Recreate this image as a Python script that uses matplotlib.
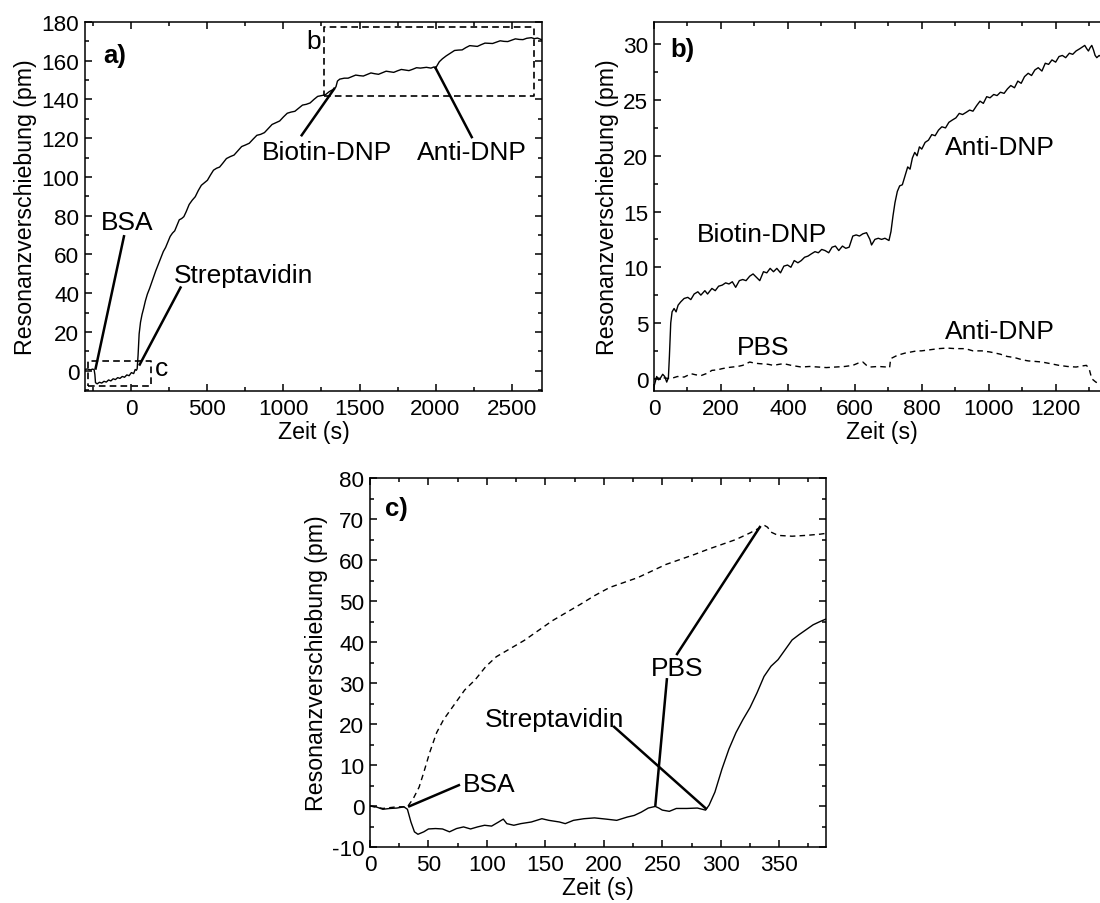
import matplotlib
matplotlib.use("Agg")
import matplotlib.pyplot as plt
from matplotlib.ticker import MultipleLocator

plt.rcParams['font.family'] = ['Liberation Sans', 'DejaVu Sans']
plt.rcParams['axes.linewidth'] = 1.1
plt.rcParams['axes.unicode_minus'] = False

# ---- panel a: full sensorgram ----
time_a = [
    -305, -290, -270, -255, -245, -240, -236, -225, -210, -195,
    -180, -165, -150, -135, -120, -105, -90, -75, -60, -45,
    -30, -15, 0, 15, 25, 33, 38, 44, 51, 60,
    70, 80, 92, 105, 120, 140, 160, 185, 210, 225,
    240, 255, 270, 285, 300, 315, 330, 345, 360, 380,
    400, 420, 440, 460, 480, 500, 520, 540, 560, 580,
    600, 625, 650, 675, 700, 725, 750, 775, 800, 825,
    850, 875, 900, 925, 950, 975, 1000, 1025, 1050, 1075,
    1100, 1125, 1150, 1175, 1200, 1225, 1250, 1275, 1300, 1330,
    1345, 1355, 1370, 1400, 1425, 1450, 1475, 1500, 1525, 1550,
    1575, 1600, 1625, 1650, 1675, 1700, 1725, 1750, 1775, 1800,
    1825, 1850, 1875, 1900, 1940, 1970, 1990, 2000, 2010, 2025,
    2045, 2070, 2100, 2125, 2150, 2175, 2200, 2225, 2250, 2275,
    2300, 2325, 2350, 2375, 2400, 2425, 2450, 2475, 2500, 2525,
    2550, 2575, 2600, 2630, 2650, 2670, 2700]
shift_a = [
    0.6, 0.9, 0.4, 0.8, 0.5, -2.0, -6.2, -6.8, -6.0, -6.4,
    -5.5, -5.9, -4.8, -5.3, -4.2, -4.6, -3.6, -4.0, -3.0, -3.4,
    -2.2, -2.6, -1.0, -1.5, 0.6, 0.2, 1.0, 8.0, 19.0, 25.0,
    29.0, 32.0, 36.0, 39.5, 42.5, 47.0, 51.5, 56.5, 61.5, 63.6,
    66.5, 69.3, 71.0, 72.2, 75.0, 77.9, 78.5, 79.5, 82.0, 85.8,
    88.0, 89.8, 93.0, 95.7, 97.0, 98.3, 101.0, 103.5, 104.5, 105.1,
    107.0, 109.5, 110.5, 111.3, 113.5, 115.7, 116.5, 117.4, 119.5, 121.5,
    122.0, 122.9, 125.0, 127.1, 128.0, 128.9, 131.0, 132.9, 133.5, 133.9,
    135.5, 137.1, 137.5, 138.2, 140.0, 141.6, 142.0, 142.4, 144.0, 145.3,
    146.5, 149.5, 150.5, 151.0, 151.0, 151.8, 152.6, 152.3, 152.1, 152.9,
    153.7, 153.3, 153.0, 153.8, 154.6, 154.3, 154.0, 154.8, 155.5, 155.2,
    154.9, 155.6, 156.4, 156.2, 156.6, 156.2, 156.8, 156.0, 157.5, 159.5,
    161.0, 162.5, 164.0, 165.3, 165.5, 165.6, 166.8, 167.8, 167.6, 167.4,
    168.3, 169.1, 169.0, 168.9, 169.6, 170.3, 170.0, 169.9, 170.6, 171.3,
    171.0, 170.9, 171.6, 171.9, 171.4, 171.7, 170.8]

# ---- panel b: Biotin-DNP / Anti-DNP step (solid) and PBS reference (dashed) ----
time_b = [
    0, 8, 14, 20, 26, 32, 38, 43, 46, 50,
    54, 60, 66, 72, 80, 90, 101, 110, 120, 131,
    140, 152, 160, 173, 183, 193, 204, 214, 224, 234,
    244, 255, 265, 275, 286, 296, 306, 316, 327, 337,
    347, 357, 367, 378, 388, 399, 409, 419, 430, 440,
    450, 460, 470, 481, 491, 501, 511, 522, 532, 542,
    552, 563, 573, 583, 594, 604, 614, 624, 635, 645,
    650, 660, 670, 680, 690, 702, 708, 714, 720, 727,
    734, 742, 750, 758, 765, 772, 779, 786, 793, 800,
    810, 820, 830, 840, 850, 860, 871, 881, 891, 902,
    912, 922, 933, 943, 953, 964, 974, 984, 994, 1004,
    1015, 1025, 1035, 1046, 1056, 1066, 1077, 1087, 1097, 1107,
    1118, 1128, 1138, 1148, 1159, 1169, 1179, 1189, 1200, 1210,
    1220, 1230, 1241, 1251, 1261, 1272, 1282, 1287, 1293, 1298,
    1303, 1308, 1313, 1318, 1323, 1330, 1340]
shift_b = [
    -0.7, 0.2, -0.1, 0.1, 0.4, 0.2, -0.3, 0.1, 2.0, 5.0,
    6.0, 6.3, 6.0, 6.6, 6.9, 7.2, 7.3, 7.1, 7.6, 7.8,
    7.5, 7.9, 7.6, 8.1, 7.9, 8.3, 8.4, 8.6, 8.5, 8.7,
    8.2, 8.8, 8.9, 8.8, 9.2, 9.4, 9.1, 8.8, 9.6, 9.5,
    9.9, 9.6, 9.9, 9.5, 10.1, 10.2, 10.0, 10.6, 10.4, 10.6,
    10.9, 11.0, 11.2, 11.4, 11.3, 11.6, 11.5, 11.3, 11.8, 11.9,
    11.5, 11.9, 11.7, 11.8, 12.8, 12.9, 12.8, 13.0, 13.1, 12.5,
    12.0, 12.5, 12.6, 12.5, 12.6, 12.4, 13.2, 14.6, 15.8, 16.8,
    17.3, 17.4, 18.2, 19.0, 18.8, 19.8, 20.3, 20.0, 20.8, 20.6,
    21.2, 21.4, 21.9, 21.8, 22.3, 22.6, 22.5, 23.0, 23.2, 23.4,
    23.8, 23.7, 23.9, 24.1, 24.0, 24.5, 24.9, 24.7, 25.3, 25.2,
    25.5, 25.4, 25.7, 25.6, 26.0, 26.3, 26.1, 26.7, 26.5, 27.1,
    27.4, 27.2, 27.7, 27.9, 27.6, 28.3, 28.2, 28.6, 28.4, 28.9,
    29.0, 28.8, 29.2, 29.1, 29.4, 29.6, 29.8, 29.9, 29.6, 29.4,
    29.7, 29.9, 29.5, 29.0, 28.8, 29.0, 28.8]

time_b_ref = [
    0, 25, 49, 70, 90, 111, 125, 142, 160, 173,
    190, 203, 220, 234, 250, 265, 286, 300, 316, 340,
    357, 375, 388, 410, 440, 465, 491, 515, 542, 570,
    594, 610, 624, 635, 645, 670, 696, 704, 707, 727,
    750, 768, 785, 799, 825, 850, 875, 902, 930, 953,
    980, 1004, 1020, 1035, 1055, 1077, 1100, 1118, 1140, 1159,
    1185, 1210, 1235, 1261, 1280, 1292, 1300, 1308, 1320, 1335]
shift_b_ref = [
    0.0, 0.1, 0.0, 0.2, 0.15, 0.45, 0.35, 0.3, 0.5, 0.75,
    0.8, 0.9, 1.0, 1.05, 1.1, 1.2, 1.5, 1.4, 1.35, 1.3,
    1.2, 1.3, 1.35, 1.2, 1.05, 1.1, 1.05, 1.0, 1.05, 1.1,
    1.2, 1.4, 1.5, 1.2, 1.05, 1.1, 1.05, 1.0, 1.8, 2.1,
    2.3, 2.4, 2.5, 2.5, 2.6, 2.7, 2.75, 2.7, 2.7, 2.5,
    2.5, 2.4, 2.3, 2.2, 2.0, 1.9, 1.7, 1.6, 1.55, 1.5,
    1.35, 1.2, 1.1, 1.05, 1.15, 1.2, 0.9, 0.0, -0.3, -0.5]

# ---- panel c: BSA / Streptavidin (solid) and PBS reference (dashed) ----
time_c = [
    0, 5, 11, 17, 23, 29, 32, 35, 38, 41,
    46, 50, 56, 62, 68, 74, 80, 86, 92, 98,
    104, 110, 114, 117, 123, 129, 138, 147, 153, 162,
    167, 174, 183, 192, 202, 211, 220, 226, 232, 238,
    244, 247, 250, 256, 262, 271, 280, 287, 290, 295,
    301, 307, 313, 319, 325, 331, 337, 343, 349, 355,
    361, 367, 373, 379, 385, 390]
shift_c = [
    0.0, -0.2, -0.8, -0.6, -0.5, -0.2, -0.8, -3.9, -6.3, -6.9,
    -6.3, -5.6, -5.5, -5.6, -6.3, -5.5, -5.1, -5.6, -5.1, -4.7,
    -4.9, -3.9, -3.2, -4.3, -4.7, -4.3, -3.9, -3.1, -3.5, -3.9,
    -4.3, -3.5, -3.1, -2.9, -3.2, -3.5, -2.7, -2.3, -1.5, -0.5,
    -0.1, -0.5, -1.0, -1.3, -0.6, -0.6, -0.5, -1.0, 0.2, 3.4,
    9.0, 13.9, 17.9, 21.1, 24.0, 27.6, 31.6, 34.1, 35.7, 38.1,
    40.5, 41.8, 43.0, 44.2, 45.0, 45.6]

time_c_ref = [
    0, 11, 23, 32, 37, 42, 46, 51, 57, 63,
    72, 81, 90, 99, 108, 120, 132, 144, 156, 168,
    180, 192, 205, 217, 229, 241, 253, 265, 277, 289,
    301, 313, 325, 333, 337, 340, 343, 349, 361, 373,
    385, 390]
shift_c_ref = [
    0.0, -0.6, -0.2, -0.2, 1.8, 4.6, 8.2, 13.0, 17.9, 21.1,
    24.7, 28.3, 30.8, 34.0, 36.4, 38.4, 40.4, 42.8, 45.2, 47.2,
    49.2, 51.3, 53.3, 54.5, 55.7, 57.3, 58.9, 60.1, 61.3, 62.6,
    63.8, 65.0, 66.6, 67.8, 68.5, 68.0, 66.8, 66.0, 65.8, 66.0,
    66.3, 66.5]

XLABEL = "Zeit (s)"
YLABEL = "Resonanzverschiebung (pm)"

TICK_FS = 16.2
LABEL_FS = 16.7
ANNOT_FS = 19
PANEL_FS = 18.5

fig = plt.figure(figsize=(11, 9.04), dpi=100)
W, H = 1100, 904


def add_axes_px(left, top, right, bottom):
    return fig.add_axes([left / W, 1 - bottom / H, (right - left) / W, (bottom - top) / H])


def style(ax, xmaj, xmin, ymaj, ymin):
    ax.xaxis.set_major_locator(MultipleLocator(xmaj))
    ax.xaxis.set_minor_locator(MultipleLocator(xmin))
    ax.yaxis.set_major_locator(MultipleLocator(ymaj))
    ax.yaxis.set_minor_locator(MultipleLocator(ymin))
    ax.tick_params(which='both', direction='in', top=True, right=True,
                   labelsize=TICK_FS, width=1.1)
    ax.tick_params(which='major', length=5)
    ax.tick_params(which='minor', length=3)
    ax.tick_params(axis='x', which='major', pad=5)
    ax.tick_params(axis='y', which='major', pad=4)
    ax.set_xlabel(XLABEL, fontsize=LABEL_FS, labelpad=1)
    ax.set_ylabel(YLABEL, fontsize=LABEL_FS, labelpad=3)


def pointer(ax, text_xy, tip_xy):
    ax.plot([text_xy[0], tip_xy[0]], [text_xy[1], tip_xy[1]],
            color='black', lw=1.8, solid_capstyle='butt')


# ---------------- panel a ----------------
ax_a = add_axes_px(85, 23, 542, 392)
ax_a.plot(time_a, shift_a, color='black', lw=1.0)
ax_a.set_xlim(-305, 2700)
ax_a.set_ylim(-10.5, 180)
style(ax_a, 500, 250, 20, 10)
ax_a.text(0.04, 0.91, "a)", transform=ax_a.transAxes, fontsize=PANEL_FS,
          fontweight='bold', va='center', ha='left')

# regions enlarged in panels b and c
box_kw = dict(color='black', lw=1.2, ls=(0, (4, 2.5)))
ax_a.plot([1268, 2646, 2646, 1268, 1268], [141.6, 141.6, 177.2, 177.2, 141.6], **box_kw)
ax_a.plot([-287, 128, 128, -287, -287], [-7.8, -7.8, 4.8, 4.8, -7.8], **box_kw)
ax_a.text(1197, 170, "b", fontsize=ANNOT_FS, ha='center', va='center')
ax_a.text(199, 1.2, "c", fontsize=ANNOT_FS, ha='center', va='center')

ax_a.text(-30, 77, "BSA", fontsize=ANNOT_FS, ha='center', va='center')
pointer(ax_a, (-47, 70), (-237, 0.5))
ax_a.text(740, 49.4, "Streptavidin", fontsize=ANNOT_FS, ha='center', va='center')
pointer(ax_a, (327, 43.5), (51, 2.6))
ax_a.text(1285, 113, "Biotin-DNP", fontsize=ANNOT_FS, ha='center', va='center')
pointer(ax_a, (1115, 121), (1338, 146))
ax_a.text(2236, 113, "Anti-DNP", fontsize=ANNOT_FS, ha='center', va='center')
pointer(ax_a, (2242, 120), (1995, 157))

# ---------------- panel b ----------------
ax_b = add_axes_px(654, 23, 654 + 1362 * 0.3347, 392)
ax_b.plot(time_b, shift_b, color='black', lw=1.0)
ax_b.plot(time_b_ref, shift_b_ref, color='black', lw=1.0, ls=(0, (4, 3)))
ax_b.set_xlim(0, 1362)
ax_b.set_ylim(-1.1, 32)
style(ax_b, 200, 100, 5, 2.5)
ax_b.text(0.035, 0.927, "b)", transform=ax_b.transAxes, fontsize=PANEL_FS,
          fontweight='bold', va='center', ha='left')
ax_b.text(324, 13.0, "Biotin-DNP", fontsize=ANNOT_FS, ha='center', va='center')
ax_b.text(1032, 20.8, "Anti-DNP", fontsize=ANNOT_FS, ha='center', va='center')
ax_b.text(1032, 4.3, "Anti-DNP", fontsize=ANNOT_FS, ha='center', va='center')
ax_b.text(326, 2.85, "PBS", fontsize=ANNOT_FS, ha='center', va='center')

# ---------------- panel c ----------------
ax_c = add_axes_px(370, 479, 826, 848)
ax_c.plot(time_c, shift_c, color='black', lw=1.0)
ax_c.plot(time_c_ref, shift_c_ref, color='black', lw=1.0, ls=(0, (4, 3)))
ax_c.set_xlim(0, 390)
ax_c.set_ylim(-10, 80)
style(ax_c, 50, 25, 10, 5)
ax_c.text(0.033, 0.92, "c)", transform=ax_c.transAxes, fontsize=PANEL_FS,
          fontweight='bold', va='center', ha='left')
ax_c.text(102, 5.4, "BSA", fontsize=ANNOT_FS, ha='center', va='center')
pointer(ax_c, (77, 5.2), (32.6, -0.2))
ax_c.text(263, 33.6, "PBS", fontsize=ANNOT_FS, ha='center', va='center')
pointer(ax_c, (262, 36.8), (334, 68.3))
pointer(ax_c, (254, 31.2), (244, 0))
ax_c.text(158, 21.1, "Streptavidin", fontsize=ANNOT_FS, ha='center', va='center')
pointer(ax_c, (208, 19.5), (288, -0.8))

fig.savefig("out.png", dpi=100)
